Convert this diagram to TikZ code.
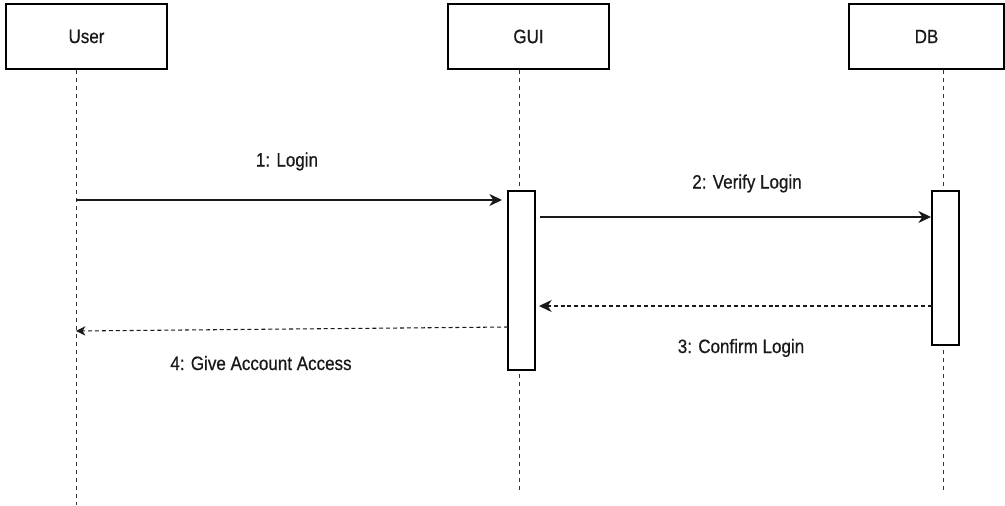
\documentclass[tikz,border=0pt]{standalone}
\usepackage{fontspec}
\setmainfont{Liberation Sans}
\newfontfamily\lblfont[FakeStretch=0.88,FakeBold=0.6]{Liberation Sans}
\usetikzlibrary{arrows.meta}
\begin{document}
\begin{tikzpicture}[x=0.75pt,y=-0.75pt,
  lbox/.style={draw=black,line width=1.2pt,minimum width=120.75pt,minimum height=48.75pt,inner sep=0pt,font=\lblfont\fontsize{14.5}{16}\selectfont,text=black!90},
  actbox/.style={draw=black,line width=0.9pt,fill=white,minimum width=20.25pt,inner sep=0pt},
  life/.style={line width=0.75pt,dash pattern=on 3pt off 3pt,black!80},
  msg/.style={-{Stealth[length=9.5pt,width=9pt,inset=3pt]},line width=0.9pt,black!90},
  ret/.style={msg,dash pattern=on 3pt off 2.2pt},
  smallret/.style={-{Stealth[length=7pt,width=7pt,inset=2pt]},line width=0.8pt,black!90,dash pattern=on 3pt off 2.2pt},
  lbl/.style={font=\lblfont\fontsize{14.5}{16}\selectfont,text=black!90,anchor=base,inner sep=0pt}
]
\useasboundingbox (0,0) rectangle (1005,506);
% lifeline heads
\node[lbox] (user) at (86.5,36.5) {User};
\node[lbox] (gui) at (528.5,36.5) {GUI};
\node[lbox,minimum width=116.25pt] (db) at (926.5,36.5) {DB};
% lifeline coordinates
\coordinate (uTop) at (76,70);  \coordinate (uBot) at (76,505);
\coordinate (gTop) at (519,70); \coordinate (gBot) at (519,492);
\coordinate (dTop) at (943,70); \coordinate (dBot) at (943,491);
\draw[life] (uTop) -- (uBot);
\draw[life] (gTop) -- (gBot);
\draw[life] (dTop) -- (dBot);
% activations
\node[actbox,minimum height=134.25pt] (gact) at (521.5,280.5) {};
\node[actbox,minimum height=115.5pt] (dact) at (945.5,268) {};
% message endpoints
\coordinate (m1s) at (76,200);  \coordinate (m1e) at (502,200);
\coordinate (m2s) at (540,217); \coordinate (m2e) at (931,217);
\coordinate (m3s) at (932,306); \coordinate (m3e) at (539,306);
\coordinate (m4s) at (508,327); \coordinate (m4e) at (76,331);
\draw[msg] (m1s) -- (m1e);
\draw[msg] (m2s) -- (m2e);
\draw[ret] (m3s) -- (m3e);
\draw[smallret] (m4s) -- (m4e);
% labels
\node[lbl] (l1) at (287,166.5) {1: Login};
\node[lbl] (l2) at (747,188.5) {2: Verify Login};
\node[lbl] (l3) at (741,353) {3: Confirm Login};
\node[lbl] (l4) at (261,370) {4: Give Account Access};
\end{tikzpicture}
\end{document}
